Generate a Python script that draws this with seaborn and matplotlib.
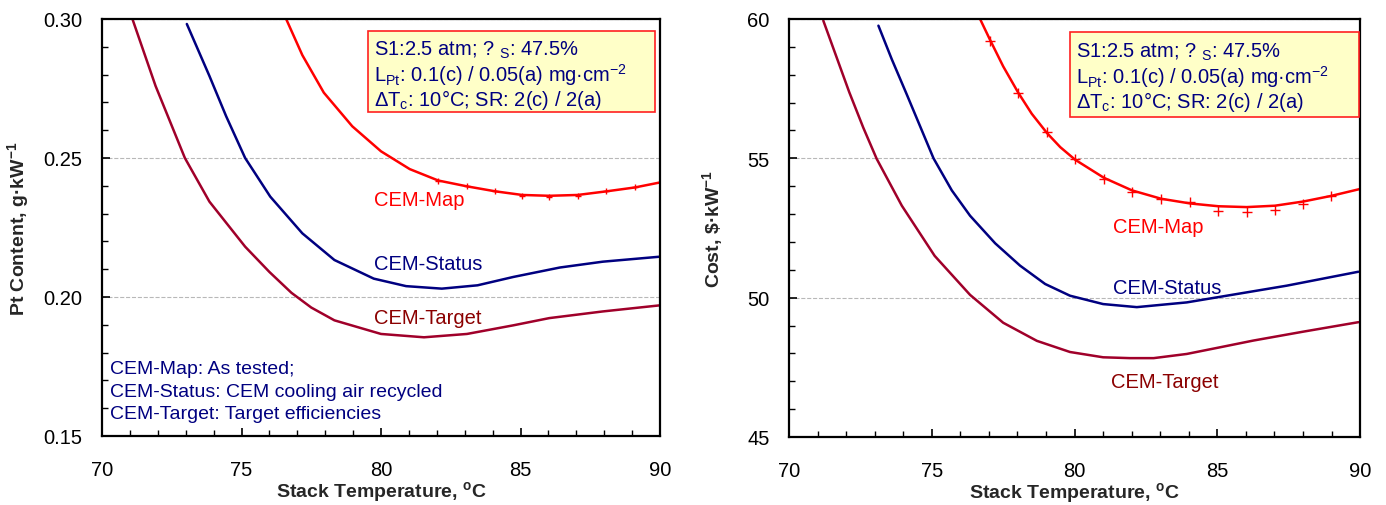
import numpy as np
import pandas as pd
import matplotlib
matplotlib.use('Agg')
import matplotlib.pyplot as plt
import seaborn as sns
from matplotlib.ticker import MultipleLocator, FormatStrFormatter
from matplotlib.patches import Rectangle

# ---------------- data ----------------
# Left panel: Pt content, g/kW
pt_map_T = [76.6, 77.18, 77.95, 78.97, 80.0, 81.03, 82.05, 83.08, 84.1, 85.06, 86.03, 87.05, 88.08, 89.1, 90.0]
pt_map_v = [0.300, 0.2870, 0.2735, 0.2614, 0.2524, 0.2460, 0.2419, 0.2398, 0.2380, 0.2367, 0.2364, 0.2367, 0.2380, 0.2394, 0.2412]
pt_mark_T = [82.05, 83.08, 84.1, 85.06, 86.03, 87.05, 88.08, 89.1]
pt_mark_v = [0.2419, 0.2400, 0.2383, 0.2363, 0.2360, 0.2362, 0.2380, 0.2396]
pt_status_T = [73.04, 73.85, 74.45, 75.13, 76.03, 77.18, 78.33, 79.74, 80.9, 82.18, 83.46, 84.74, 86.41, 87.95, 90.0]
pt_status_v = [0.2982, 0.2795, 0.2650, 0.2500, 0.2361, 0.2229, 0.2133, 0.2066, 0.2039, 0.2030, 0.2042, 0.2072, 0.2106, 0.2127, 0.2145]
pt_target_T = [71.09, 71.92, 72.97, 73.85, 75.13, 76.0, 76.79, 77.5, 78.33, 80.0, 81.54, 83.08, 84.74, 86.03, 87.95, 90.0]
pt_target_v = [0.300, 0.2759, 0.2500, 0.2343, 0.2181, 0.2090, 0.2015, 0.1962, 0.1916, 0.1867, 0.1855, 0.1867, 0.1898, 0.1924, 0.1948, 0.1970]

# Right panel: cost, $/kW
cost_map_T = [76.69, 77.04, 77.5, 78.03, 78.5, 79.04, 79.5, 80.02, 81.03, 82.01, 83.03, 84.05, 85.04, 86.03, 87.02, 88.01, 88.98, 90.0]
cost_map_v = [60.0, 59.25, 58.3, 57.35, 56.6, 55.9, 55.4, 54.95, 54.3, 53.85, 53.55, 53.38, 53.28, 53.25, 53.3, 53.45, 53.65, 53.9]
cost_mark_T = [77.04, 78.03, 79.04, 80.02, 81.03, 82.01, 83.03, 84.05, 85.04, 86.03, 87.02, 88.01, 88.98]
cost_mark_v = [59.2, 57.33, 55.95, 54.98, 54.26, 53.79, 53.54, 53.42, 53.10, 53.06, 53.16, 53.36, 53.65]
cost_status_T = [73.13, 73.6, 74.12, 75.06, 75.7, 76.34, 77.22, 78.09, 78.97, 79.84, 81.0, 82.18, 83.93, 85.68, 87.43, 89.94]
cost_status_v = [59.76, 58.55, 57.3, 55.0, 53.85, 52.94, 51.95, 51.15, 50.49, 50.07, 49.77, 49.66, 49.83, 50.13, 50.43, 50.93]
cost_target_T = [71.2, 72.11, 72.6, 73.07, 73.95, 75.1, 76.34, 77.5, 78.68, 79.84, 81.0, 81.94, 82.77, 83.93, 85.1, 86.26, 88.01, 89.94]
cost_target_v = [59.94, 57.37, 56.1, 54.98, 53.3, 51.5, 50.1, 49.1, 48.45, 48.05, 47.86, 47.83, 47.83, 47.98, 48.22, 48.46, 48.78, 49.12]

series_names = ["CEM-Map", "CEM-Status", "CEM-Target"]
box_lines = ["S1:2.5 atm; ? $_{\\mathrm{S}}$: 47.5%",
             "L$_{\\mathrm{Pt}}$: 0.1(c) / 0.05(a) mg·cm$^{\\mathrm{-2}}$",
             "ΔT$_{\\mathrm{c}}$: 10°C; SR: 2(c) / 2(a)"]
note_lines = ["CEM-Map: As tested;",
              "CEM-Status: CEM cooling air recycled",
              "CEM-Target: Target efficiencies"]

# ---------------- style ----------------
sns.set_theme(style='white')
plt.rcParams['font.family'] = ['Liberation Sans', 'DejaVu Sans']
plt.rcParams['mathtext.fontset'] = 'custom'
plt.rcParams['mathtext.rm'] = 'Liberation Sans'
plt.rcParams['mathtext.it'] = 'Liberation Sans:italic'
plt.rcParams['mathtext.bf'] = 'Liberation Sans:bold'

C_MAP = '#FF0000'
C_STATUS = '#000080'
C_TARGET = '#A0002A'
C_TARGET_TXT = '#8B0000'
NAVY = '#000080'

fig = plt.figure(figsize=(13.86, 5.06), dpi=100)
ax1 = fig.add_axes([0.0736, 0.1364, 0.4026, 0.8241])
ax2 = fig.add_axes([0.5693, 0.1344, 0.4120, 0.8261])


def style(ax, ylim, ymaj, ymin, fmt):
    ax.set_xlim(70, 90)
    ax.set_ylim(*ylim)
    ax.xaxis.set_major_locator(MultipleLocator(5))
    ax.xaxis.set_minor_locator(MultipleLocator(1))
    ax.yaxis.set_major_locator(MultipleLocator(ymaj))
    ax.yaxis.set_minor_locator(MultipleLocator(ymin))
    ax.yaxis.set_major_formatter(FormatStrFormatter(fmt))
    ax.tick_params(which='both', direction='in', top=False, right=False,
                   left=True, bottom=True, colors='black', labelsize=14.5)
    ax.tick_params(which='major', length=6, width=1.2)
    ax.tick_params(which='minor', length=4, width=1.0)
    ax.tick_params(axis='x', which='major', pad=17)
    ax.tick_params(axis='y', which='major', pad=14)
    for s in ax.spines.values():
        s.set_visible(True)
        s.set_color('black')
        s.set_linewidth(1.6)
    ax.grid(False)
    ax.yaxis.grid(True, which='major', ls='--', color='#b8b8b8', lw=0.8)
    ax.set_axisbelow(True)
    ax.set_xlabel('Stack Temperature, $^{\\mathbf{o}}$C', fontsize=14,
                  fontweight='bold', labelpad=0)


def draw(ax, mapT, mapV, mkT, mkV, stT, stV, taT, taV, msize):
    sns.lineplot(x=taT, y=taV, ax=ax, color=C_TARGET, lw=1.8, sort=False, estimator=None)
    sns.lineplot(x=stT, y=stV, ax=ax, color=C_STATUS, lw=1.8, sort=False, estimator=None)
    sns.lineplot(x=mapT, y=mapV, ax=ax, color=C_MAP, lw=1.8, sort=False, estimator=None)
    sns.scatterplot(x=mkT, y=mkV, ax=ax, color=C_MAP, marker='+', s=msize ** 2,
                    linewidth=1.0, zorder=4)


def infobox(ax, x0, x1, y0, y1, tx, ty):
    ax.add_patch(Rectangle((x0, y0), x1 - x0, y1 - y0, transform=ax.transAxes,
                           facecolor='#FFFFC8', edgecolor='#FF2020', lw=1.2, zorder=5))
    for line, y in zip(box_lines, ty):
        ax.text(tx, y, line, transform=ax.transAxes, fontsize=14.5, color=NAVY,
                va='center', ha='left', zorder=6)


# ---- left panel ----
draw(ax1, pt_map_T, pt_map_v, pt_mark_T, pt_mark_v, pt_status_T, pt_status_v,
     pt_target_T, pt_target_v, 4)
style(ax1, (0.15, 0.30), 0.05, 0.01, '%.2f')
ax1.set_ylabel('Pt Content, g·kW$^{\\mathbf{-1}}$', fontsize=14, fontweight='bold', labelpad=9)
ax1.text(79.75, 0.235, series_names[0], color=C_MAP, fontsize=14.5, va='center')
ax1.text(79.75, 0.212, series_names[1], color=C_STATUS, fontsize=14.5, va='center')
ax1.text(79.75, 0.1925, series_names[2], color=C_TARGET_TXT, fontsize=14.5, va='center')
infobox(ax1, 0.4767, 0.991, 0.777, 0.971,
        0.487, [(437 - 50) / 417, (437 - 75) / 417, (437 - 100) / 417])
for line, y in zip(note_lines, [0.163, 0.1055, 0.0528]):
    ax1.text(0.0143, y, line, transform=ax1.transAxes, fontsize=14, color=NAVY,
             va='center', ha='left')

# ---- right panel ----
draw(ax2, cost_map_T, cost_map_v, cost_mark_T, cost_mark_v, cost_status_T, cost_status_v,
     cost_target_T, cost_target_v, 7)
style(ax2, (45, 60), 5, 1, '%d')
ax2.set_ylabel('Cost, \\$·kW$^{\\mathbf{-1}}$', fontsize=14, fontweight='bold', labelpad=16)
ax2.text(81.35, 52.54, series_names[0], color=C_MAP, fontsize=14.5, va='center')
ax2.text(81.35, 50.38, series_names[1], color=C_STATUS, fontsize=14.5, va='center')
ax2.text(81.28, 47.0, series_names[2], color=C_TARGET_TXT, fontsize=14.5, va='center')
infobox(ax2, (1070 - 789) / 571, 0.998, (438 - 118) / 418, (438 - 33) / 418,
        (1076 - 789) / 571, [(438 - 52) / 418, (438 - 77) / 418, (438 - 102) / 418])

fig.savefig('out.png', dpi=100)
